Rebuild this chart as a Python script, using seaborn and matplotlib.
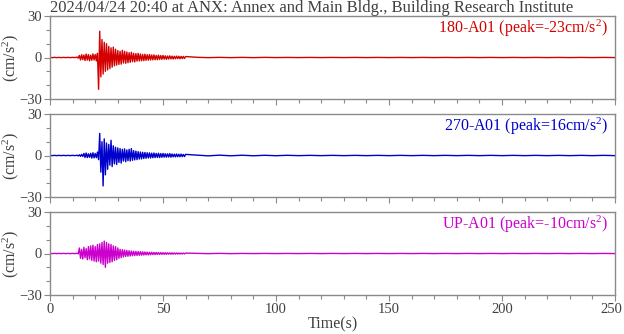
import numpy as np
import pandas as pd
import matplotlib
matplotlib.use("Agg")
import matplotlib.pyplot as plt
import matplotlib.transforms as mtransforms
from matplotlib.ticker import MultipleLocator
import seaborn as sns

# ---------------- data ----------------
title = "2024/04/24 20:40 at ANX: Annex and Main Bldg., Building Research Institute"
channels = ["180-A01", "270-A01", "UP-A01"]
peaks = [-23, 16, -10]
colors = ["#d40000", "#0000cc", "#cc00cc"]

# sampling grids
pre_t = [0, 1, 2, 3, 4, 5, 6, 7, 8, 9, 10, 11]
main_t0, main_dt = 12.0, 0.5        # main segment 12.0 .. 60.0 s
tail_t0, tail_dt = 65.0, 5.0        # tail segment 65 .. 250 s

pre_180 = [0.1, -0.1, 0.1, -0.1, 0.1, -0.1, 0.1, -0.1, 0.1, -0.1, 0.1, -0.1]
main_180 = [0.3, -0.5, 1.5, -1.8, 2.0, -1.5, 1.8, -2.2, 2.5, -1.9,
            2.1, -2.4, 1.7, -2.0, 2.6, -1.8, 2.2, -2.5, 3.0, -23.0,
            19.0, -14.0, 13.0, -12.0, 11.0, -10.0, 10.0, -9.0, 8.0, -8.0,
            7.0, -7.0, 7.5, -6.0, 6.0, -5.5, 5.0, -5.0, 4.5, -4.8,
            5.2, -4.0, 4.5, -4.2, 4.0, -3.8, 3.5, -3.5, 3.8, -3.0,
            3.0, -3.2, 2.8, -2.6, 3.0, -2.5, 2.5, -2.4, 2.2, -2.3,
            2.4, -2.0, 2.0, -1.9, 2.1, -1.8, 1.8, -1.7, 1.9, -1.6,
            1.5, -1.6, 1.7, -1.4, 1.4, -1.3, 1.5, -1.2, 1.2, -1.3,
            1.1, -1.1, 1.2, -1.0, 1.0, -1.1, 0.9, -0.9, 1.0, -0.8,
            0.9, -0.9, 0.8, -0.8, 0.8, -0.7, 0.7]
tail_180 = [0.15, -0.1, 0.1, -0.1, 0.1, -0.1, 0.1, -0.05, 0.05, -0.05,
            0.05, -0.05, 0.05, -0.05, 0.05, -0.05, 0.05, -0.05, 0.05, -0.05,
            0.05, -0.05, 0.05, -0.05, 0.05, -0.05, 0.05, -0.05, 0.05, -0.05,
            0.05, -0.05, 0.05, -0.05, 0.05, -0.05, 0.05, -0.05]

pre_270 = [0.1, -0.1, 0.1, -0.1, 0.1, -0.1, 0.1, -0.1, 0.1, -0.1, 0.1, -0.1]
main_270 = [0.2, -0.3, 0.5, -0.6, 0.8, -0.7, 1.5, -1.4, 1.8, -1.5,
            1.2, -1.3, 1.6, -1.9, 2.0, -1.7, 1.5, -1.6, 2.5, -3.0,
            16.0, -12.0, 10.0, -22.0, 12.0, -14.0, 9.0, -10.0, 8.0, -7.0,
            11.0, -8.0, 7.0, -6.0, 6.0, -6.5, 5.5, -5.0, 5.0, -5.5,
            4.5, -4.0, 4.8, -4.5, 4.0, -3.8, 4.5, -4.0, 5.0, -3.5,
            3.5, -3.2, 3.2, -3.0, 2.8, -2.6, 2.5, -2.5, 2.3, -2.2,
            2.2, -2.0, 2.0, -1.8, 1.9, -1.8, 1.7, -1.6, 1.8, -1.5,
            1.5, -1.4, 1.6, -1.5, 1.4, -1.3, 1.5, -1.2, 1.3, -1.2,
            1.2, -1.1, 1.4, -1.2, 1.1, -1.0, 1.0, -1.0, 1.1, -0.9,
            0.9, -0.9, 1.0, -0.8, 0.8, -0.8, 0.8]
tail_270 = [0.3, -0.25, 0.25, -0.2, 0.2, -0.2, 0.15, -0.15, 0.15, -0.1,
            0.1, -0.1, 0.1, -0.1, 0.1, -0.1, 0.1, -0.1, 0.1, -0.1,
            0.1, -0.1, 0.1, -0.1, 0.1, -0.1, 0.1, -0.1, 0.1, -0.1,
            0.1, -0.1, 0.1, -0.1, 0.1, -0.1, 0.1, -0.1]

pre_up = [0.1, -0.1, 0.1, -0.1, 0.1, -0.1, 0.1, -0.1, 0.1, -0.1, 0.1, -0.1]
main_up = [0.2, -0.3, 4.0, -3.5, 3.0, -4.0, 4.5, -3.0, 3.5, -4.5,
           5.0, -4.0, 5.5, -5.0, 6.0, -5.5, 5.0, -6.0, 6.5, -5.5,
           7.0, -7.0, 8.0, -8.0, 9.0, -10.0, 8.0, -7.0, 7.0, -6.5,
           6.5, -6.0, 5.5, -5.0, 5.0, -4.5, 4.0, -3.5, 3.0, -3.0,
           2.8, -2.5, 2.5, -2.2, 2.2, -2.0, 2.0, -1.8, 1.8, -1.6,
           1.6, -1.5, 1.5, -1.4, 1.4, -1.3, 1.3, -1.2, 1.2, -1.1,
           1.1, -1.0, 1.0, -1.0, 0.9, -0.9, 0.9, -0.8, 0.8, -0.8,
           0.8, -0.7, 0.7, -0.7, 0.7, -0.6, 0.6, -0.6, 0.6, -0.6,
           0.5, -0.5, 0.5, -0.5, 0.5, -0.5, 0.4, -0.4, 0.4, -0.4,
           0.4, -0.4, 0.3, -0.3, 0.3, -0.3, 0.3]
tail_up = [0.1, -0.1, 0.1, -0.1, 0.05, -0.05, 0.05, -0.05, 0.05, -0.05,
           0.05, -0.05, 0.05, -0.05, 0.05, -0.05, 0.05, -0.05, 0.05, -0.05,
           0.05, -0.05, 0.05, -0.05, 0.05, -0.05, 0.05, -0.05, 0.05, -0.05,
           0.05, -0.05, 0.05, -0.05, 0.05, -0.05, 0.05, -0.05]

series = [(pre_180, main_180, tail_180),
          (pre_270, main_270, tail_270),
          (pre_up, main_up, tail_up)]

x_ticks = [0, 50, 100, 150, 200, 250]
y_ticks = [-30, 0, 30]

# ---------------- plot ----------------
sns.set_style("ticks")
plt.rcParams["font.family"] = ["Liberation Serif", "DejaVu Serif"]
plt.rcParams["mathtext.fontset"] = "custom"
plt.rcParams["mathtext.rm"] = "Liberation Serif"
plt.rcParams["mathtext.it"] = "Liberation Serif"

W, H = 624, 334
fig = plt.figure(figsize=(W / 100, H / 100), dpi=100)

left_px, right_px = 50, 615
tops = [16, 114, 212]
ph = 83
grey = "#8a8a8a"
txt = "#404040"
fs = 11.5

for i, (pre, main, tail) in enumerate(series):
    t = (list(pre_t)
         + list(main_t0 + main_dt * np.arange(len(main)))
         + list(tail_t0 + tail_dt * np.arange(len(tail))))
    v = list(pre) + list(main) + list(tail)
    df = pd.DataFrame({"t": t, "a": v})
    ax = fig.add_axes([left_px / W, 1 - (tops[i] + ph) / H,
                       (right_px - left_px) / W, ph / H])
    sns.lineplot(data=df, x="t", y="a", ax=ax, color=colors[i],
                 lw=1.0, estimator=None, sort=False)
    ax.set_xlim(0, 250)
    ax.set_ylim(-30, 30)
    ax.set_yticks(y_ticks)
    ax.yaxis.set_minor_locator(MultipleLocator(10))
    ax.xaxis.set_major_locator(MultipleLocator(50))
    ax.xaxis.set_minor_locator(MultipleLocator(10))
    for sp in ax.spines.values():
        sp.set_visible(True)
        sp.set_color(grey)
        sp.set_linewidth(1.0)
    ax.tick_params(which="both", direction="out", color=grey, width=0.8,
                   labelcolor=txt, labelsize=10.5, pad=2)
    ax.tick_params(which="major", length=4)
    ax.tick_params(which="minor", length=3)
    ax.set_ylabel("(cm/s$^2$)", fontsize=fs, color=txt)
    ax.yaxis.set_label_coords(-29 / (right_px - left_px), 0.5)
    if i < 2:
        ax.tick_params(axis="x", which="both", labelbottom=False)
        ax.set_xlabel("")
    else:
        ax.set_xticks(x_ticks)
        ax.set_xlabel("Time(s)", fontsize=fs, color=txt, labelpad=0)
        fig.canvas.draw()
        last = ax.get_xticklabels()[-1]
        last.set_transform(last.get_transform() +
                           mtransforms.ScaledTranslation(-4 / 100, 0,
                                                         fig.dpi_scale_trans))
    ax.text(0.988, 0.985, f"{channels[i]} (peak={peaks[i]}cm/s$^2$)",
            transform=ax.transAxes, ha="right", va="top",
            color=colors[i], fontsize=fs)

fig.text(left_px / W, 1 - 0.5 / H, title, ha="left", va="top",
         fontsize=12, color=txt)

fig.savefig("out.png", dpi=100)
